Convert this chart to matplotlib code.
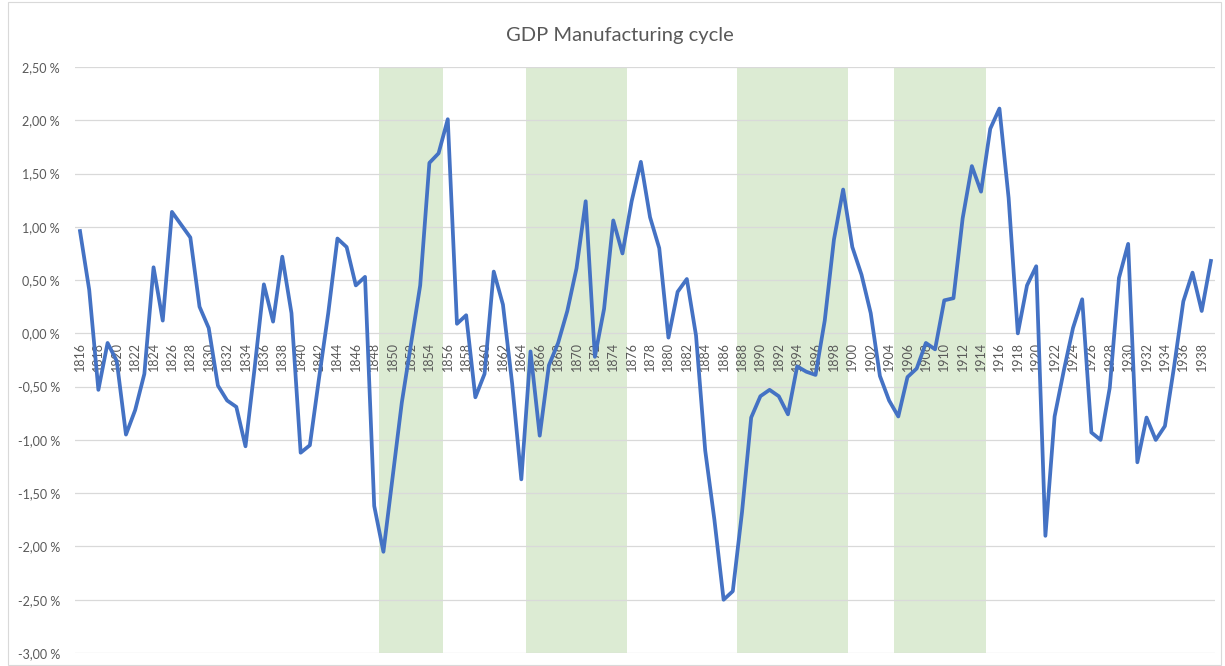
import numpy as np
import matplotlib
matplotlib.use("Agg")
import matplotlib.pyplot as plt
from matplotlib.patches import Rectangle

years = list(range(1816, 1940))
cycle_pct = [
    0.96, 0.41, -0.53, -0.09, -0.26, -0.95, -0.72, -0.38, 0.62, 0.12,   # 1816-1825
    1.14, 1.02, 0.90, 0.25, 0.05, -0.49, -0.63, -0.69, -1.06, -0.32,    # 1826-1835
    0.46, 0.11, 0.72, 0.19, -1.12, -1.05, -0.42, 0.19, 0.89, 0.81,      # 1836-1845
    0.45, 0.53, -1.62, -2.05, -1.35, -0.65, -0.10, 0.45, 1.60, 1.69,    # 1846-1855
    2.01, 0.09, 0.17, -0.60, -0.38, 0.58, 0.27, -0.47, -1.37, -0.17,    # 1856-1865
    -0.96, -0.30, -0.09, 0.21, 0.61, 1.24, -0.22, 0.23, 1.06, 0.75,     # 1866-1875
    1.24, 1.61, 1.09, 0.80, -0.04, 0.39, 0.51, -0.02, -1.10, -1.75,     # 1876-1885
    -2.50, -2.42, -1.68, -0.79, -0.59, -0.53, -0.59, -0.76, -0.31, -0.36,  # 1886-1895
    -0.39, 0.12, 0.88, 1.35, 0.81, 0.55, 0.19, -0.40, -0.63, -0.78,     # 1896-1905
    -0.41, -0.33, -0.09, -0.15, 0.31, 0.33, 1.08, 1.57, 1.33, 1.92,     # 1906-1915
    2.11, 1.27, 0.00, 0.45, 0.63, -1.90, -0.78, -0.35, 0.05, 0.32,      # 1916-1925
    -0.93, -1.00, -0.51, 0.52, 0.84, -1.21, -0.79, -1.00, -0.87, -0.31, # 1926-1935
    0.30, 0.57, 0.21, 0.68,                                             # 1936-1939
]
band_first_years = [1849, 1865, 1888, 1905]
band_last_years = [1855, 1875, 1899, 1914]
y_ticks = [-3.0, -2.5, -2.0, -1.5, -1.0, -0.5, 0.0, 0.5, 1.0, 1.5, 2.0, 2.5]
title = "GDP Manufacturing cycle"

plt.rcParams['font.family'] = ['Lato', 'DejaVu Sans']

fig = plt.figure(figsize=(12.25, 6.66), dpi=100)
ax = fig.add_axes([75.4 / 1225, 1 - 653 / 666, (1215.5 - 75.4) / 1225, (653 - 67) / 666])

for a, b in zip(band_first_years, band_last_years):
    ax.axvspan(a - 0.5, b + 0.5, color='#dcebd3', lw=0, zorder=0.2)

ax.plot(years, cycle_pct, color='#4472c4', lw=2.7, zorder=3, solid_joinstyle='round')

ax.spines['bottom'].set_position(('data', 0))
for s in ax.spines.values():
    s.set_visible(False)

ax.set_xlim(years[0] - 0.5, years[-1] + 0.5)
ax.set_ylim(-3.0, 2.5)
ax.set_yticks(y_ticks)
ax.set_yticklabels([f"{v:.2f} %".replace('.', ',') for v in y_ticks])
ax.set_axisbelow(True)
ax.grid(axis='y', color='#d9d9d9', lw=0.9)
ax.grid(axis='x', visible=False)

xt = years[::2]
ax.set_xticks(xt)
ax.set_xticklabels([str(y) for y in xt], rotation=90, va='top', ha='center')
ax.tick_params(axis='x', length=0, pad=6, labelsize=9, labelcolor='#595959', labelrotation=90)
ax.tick_params(axis='y', length=0, pad=11, labelsize=9, labelcolor='#595959')

fig.text(620 / 1225, 1 - 35 / 666, title, ha='center', va='center', fontsize=14.5, color='#595959')

fig.patches.append(Rectangle((8 / 1225, 1 / 666), 1213 / 1225, 663 / 666, transform=fig.transFigure,
                             fill=False, edgecolor='#d9d9d9', lw=0.8))

fig.savefig("out.png", dpi=100)
